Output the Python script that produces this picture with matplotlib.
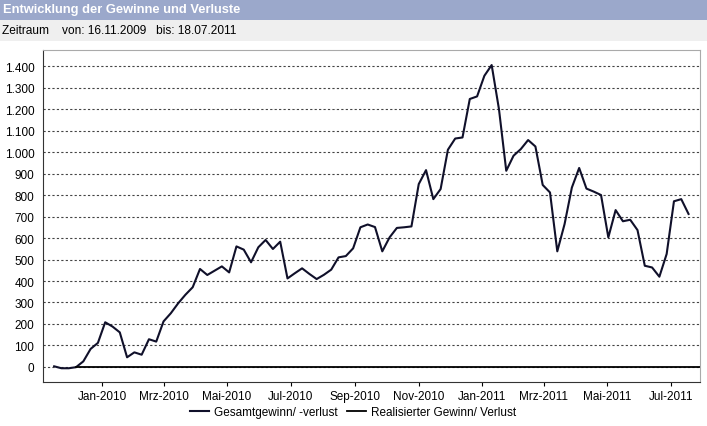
import pandas as pd
import matplotlib
matplotlib.use("Agg")
import matplotlib.pyplot as plt
from matplotlib.patches import Rectangle

plt.rcParams['font.family'] = ['Liberation Sans', 'DejaVu Sans']

# Gesamtgewinn/-verlust, wöchentlich ab 16.11.2009
gesamt = [3, -6, -6, -1, 26, 84, 112, 208, 188, 161,
          45, 68, 57, 129, 118, 212, 250, 296, 336, 371,
          456, 428, 448, 468, 440, 561, 546, 487, 557, 591,
          549, 583, 412, 436, 459, 433, 409, 429, 453, 510,
          516, 552, 650, 663, 651, 538, 603, 647, 650, 654,
          851, 916, 781, 828, 1011, 1063, 1068, 1247, 1259, 1355,
          1405, 1200, 913, 983, 1014, 1056, 1026, 847, 812, 538,
          665, 835, 926, 830, 816, 800, 603, 730, 678, 685,
          637, 471, 463, 420, 526, 771, 781, 712]
dates = pd.date_range("2009-11-16", periods=len(gesamt), freq="7D")

# Realisierter Gewinn/Verlust
real_dates = pd.to_datetime(["2009-12-07", "2011-07-29"])
real_vals = [0, 0]

tick_dates = pd.to_datetime(["2010-01-01", "2010-03-01", "2010-05-01", "2010-07-01",
                             "2010-09-01", "2010-11-01", "2011-01-01", "2011-03-01",
                             "2011-05-01", "2011-07-01"])
tick_labels = ["Jan-2010", "Mrz-2010", "Mai-2010", "Jul-2010", "Sep-2010",
               "Nov-2010", "Jan-2011", "Mrz-2011", "Mai-2011", "Jul-2011"]
y_ticks = list(range(0, 1401, 100))
y_labels = ["{:,}".format(v).replace(",", ".") for v in y_ticks]

fig = plt.figure(figsize=(7.07, 4.27), dpi=100)
fig.patch.set_facecolor("white")

# Kopfzeilen
fig.patches.append(Rectangle((0, 1 - 21 / 427), 1, 21 / 427, transform=fig.transFigure,
                             facecolor="#9ba8cb", edgecolor="none", zorder=0))
fig.patches.append(Rectangle((0, 1 - 42 / 427), 1, 21 / 427, transform=fig.transFigure,
                             facecolor="#efefef", edgecolor="none", zorder=0))
fig.text(3 / 707, 1 - 10.5 / 427, "Entwicklung der Gewinne und Verluste", color="white",
         fontsize=9.3, fontweight="bold", va="center", ha="left")
fig.text(2 / 707, 1 - 31.5 / 427, "Zeitraum    von: 16.11.2009   bis: 18.07.2011",
         color="black", fontsize=8.6, va="center", ha="left")

ax = fig.add_axes([42.7 / 707, 1 - 383 / 427, (700 - 42.7) / 707, (383 - 51) / 427])
ax.plot(dates, gesamt, color="#10102a", lw=1.5, label="Gesamtgewinn/ -verlust", zorder=3)
ax.plot(real_dates, real_vals, color="black", lw=1.3, label="Realisierter Gewinn/ Verlust",
        zorder=4)

ax.set_xlim(pd.Timestamp("2009-11-05"), pd.Timestamp("2011-07-29"))
ax.set_ylim(-70, 1475)
ax.set_yticks(y_ticks)
ax.set_yticklabels(y_labels)
ax.set_xticks(tick_dates)
ax.set_xticklabels(tick_labels)
ax.tick_params(axis="y", length=0, pad=6, labelsize=8.5)
ax.tick_params(axis="x", length=3, direction="out", pad=3, labelsize=8.5)
ax.yaxis.grid(True, linestyle=(0, (2, 2)), color="#444444", lw=0.8)
ax.set_axisbelow(True)
for s in ["left", "bottom"]:
    ax.spines[s].set_color("#333333")
for s in ["top", "right"]:
    ax.spines[s].set_color("#aaaaaa")

ax.legend(loc="center", bbox_to_anchor=(0.472, -30 / 332), ncol=2, frameon=False,
          fontsize=8.5, handlelength=1.6, handletextpad=0.4, columnspacing=0.8,
          borderaxespad=0, borderpad=0)

fig.savefig("out.png", dpi=100)
